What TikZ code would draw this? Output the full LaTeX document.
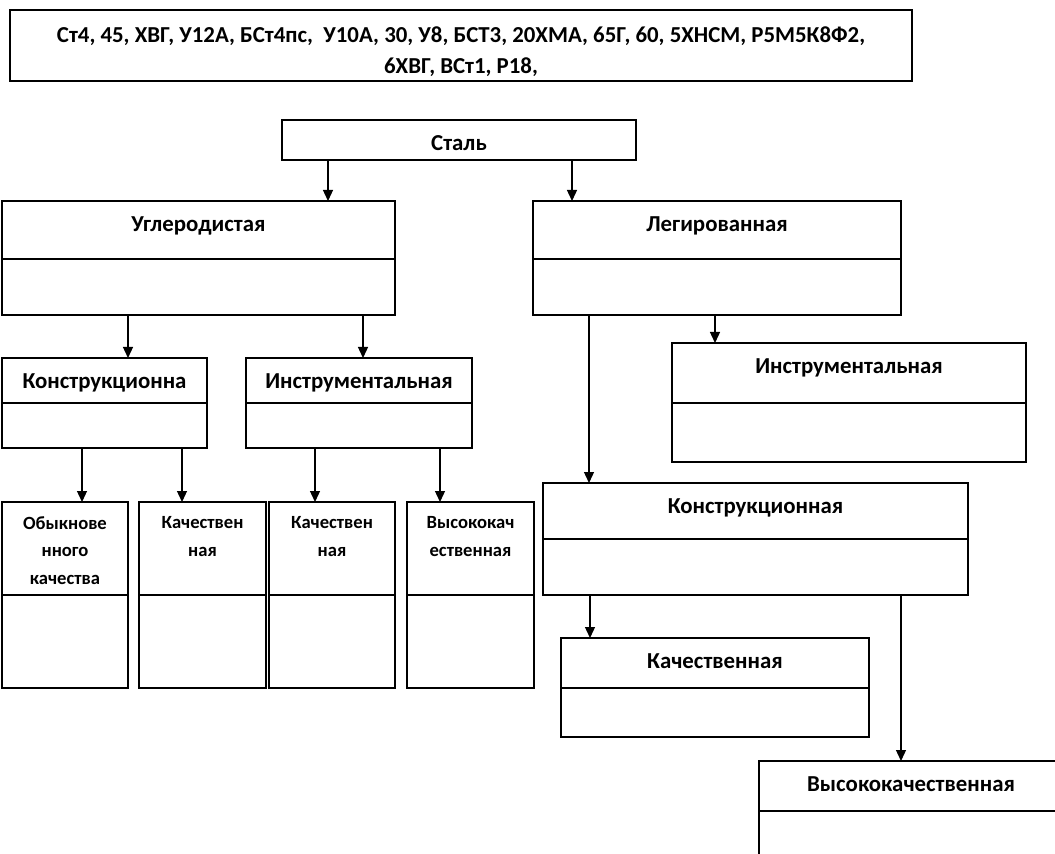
\documentclass[tikz,border=0pt]{standalone}
\usepackage{fontspec}
\setmainfont{Carlito}
\usetikzlibrary{positioning,arrows.meta}

\tikzset{
  box/.style 2 args={draw, line width=1.1pt, inner sep=0pt, outer sep=0pt,
    minimum width=#1*0.02cm, minimum height=#2*0.02cm},
  lbl/.style={font=\fontsize{13}{18}\selectfont\bfseries, inner sep=0pt, anchor=north, align=center},
  lblsm/.style={font=\fontsize{10.6}{15.5}\selectfont\bfseries, inner sep=0pt, anchor=north, align=center},
  arr/.style={-{Triangle[length=0.22cm,width=0.2cm]}, line width=0.75pt},
}

\begin{document}
\begin{tikzpicture}[x=0.02cm, y=-0.02cm]
  \clip (0,0) rectangle (1055,854);

  % marks
  \node[box={902}{71}] (marki) at (461,45.5) {};
  \node[lbl, below=0.32cm of marki.north] (markiT) {Ст4, 45, ХВГ, У12А, БСт4пс,~ У10А, 30, У8, БСТ3, 20ХМА, 65Г, 60, 5ХНСМ, Р5М5К8Ф2,\\6ХВГ, ВСт1, Р18,};

  % level 1
  \node[box={354}{40}] (stal) at (459,140) {};
  \node[lbl, below=0.3cm of stal.north] (stalT) {Сталь};

  % level 2
  \node[box={393}{58}] (ugl) at (198.5,230) {};
  \node[box={393}{56}, below=0pt of ugl] (uglB) {};
  \node[lbl, below=0.3cm of ugl.north] (uglT) {Углеродистая};

  \node[box={368}{58}] (leg) at (717,230) {};
  \node[box={368}{56}, below=0pt of leg] (legB) {};
  \node[lbl, below=0.3cm of leg.north] (legT) {Легированная};

  % level 3
  \node[box={205}{45}] (uk) at (104.5,380.5) {};
  \node[box={205}{45}, below=0pt of uk] (ukB) {};
  \node[lbl, below=0.3cm of uk.north] (ukT) {Конструкционна};

  \node[box={226}{45}] (ui) at (359,380.5) {};
  \node[box={226}{45}, below=0pt of ui] (uiB) {};
  \node[lbl, below=0.3cm of ui.north] (uiT) {Инструментальная};

  \node[box={354}{60}] (li) at (849,373) {};
  \node[box={354}{59}, below=0pt of li] (liB) {};
  \node[lbl, below=0.3cm of li.north] (liT) {Инструментальная};

  \node[box={425}{56}] (lk) at (755.5,511) {};
  \node[box={425}{56}, below=0pt of lk] (lkB) {};
  \node[lbl, below=0.3cm of lk.north] (lkT) {Конструкционная};

  % level 4
  \node[box={126}{93}] (b1) at (65,548.5) {};
  \node[box={126}{93}, below=0pt of b1] (b1B) {};
  \node[lblsm, below=0.29cm of b1.north] (b1T) {Обыкнове\\нного\\качества};

  \node[box={127}{93}] (b2) at (202.5,548.5) {};
  \node[box={127}{93}, below=0pt of b2] (b2B) {};
  \node[lblsm, below=0.29cm of b2.north] (b2T) {Качествен\\ная};

  \node[box={126}{93}] (b3) at (332,548.5) {};
  \node[box={126}{93}, below=0pt of b3] (b3B) {};
  \node[lblsm, below=0.29cm of b3.north] (b3T) {Качествен\\ная};

  \node[box={127}{93}] (b4) at (470.5,548.5) {};
  \node[box={127}{93}, below=0pt of b4] (b4B) {};
  \node[lblsm, below=0.29cm of b4.north] (b4T) {Высококач\\ественная};

  \node[box={308}{50}] (lkk) at (715,663) {};
  \node[box={308}{49}, below=0pt of lkk] (lkkB) {};
  \node[lbl, below=0.3cm of lkk.north] (lkkT) {Качественная};

  \node[box={304}{50}] (lkv) at (911,786) {};
  \node[box={304}{80}, below=0pt of lkv] (lkvB) {};
  \node[lbl, below=0.3cm of lkv.north] (lkvT) {Высококачественная};

  % arrows
  \draw[arr] (stal.south -| 328,0) -- (ugl.north -| 328,0);
  \draw[arr] (stal.south -| 572,0) -- (leg.north -| 572,0);
  \draw[arr] (uglB.south -| 128,0) -- (uk.north -| 128,0);
  \draw[arr] (uglB.south -| 363,0) -- (ui.north -| 363,0);
  \draw[arr] (ukB.south -| 82,0) -- (b1.north -| 82,0);
  \draw[arr] (ukB.south -| 182,0) -- (b2.north -| 182,0);
  \draw[arr] (uiB.south -| 315,0) -- (b3.north -| 315,0);
  \draw[arr] (uiB.south -| 440,0) -- (b4.north -| 440,0);
  \draw[arr] (legB.south -| 715,0) -- (li.north -| 715,0);
  \draw[arr] (legB.south -| 589,0) -- (lk.north -| 589,0);
  \draw[arr] (lkB.south -| 590,0) -- (lkk.north -| 590,0);
  \draw[arr] (lkB.south -| 901,0) -- (lkv.north -| 901,0);
\end{tikzpicture}
\end{document}
